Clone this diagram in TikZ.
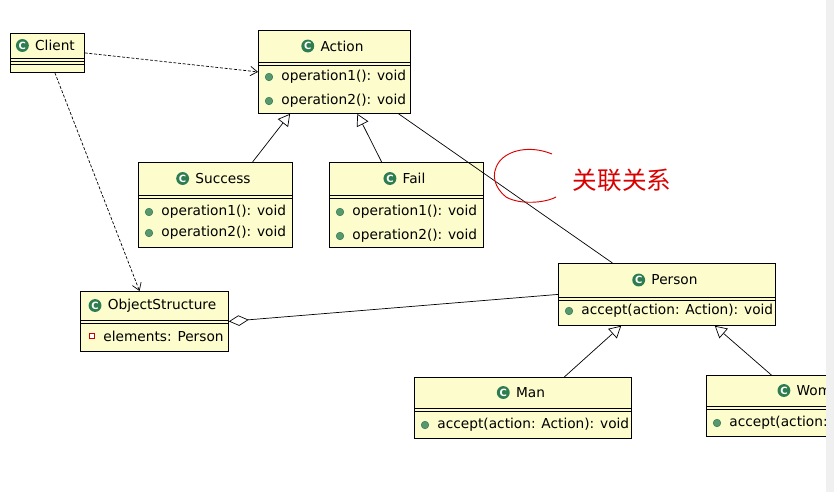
\documentclass[tikz,border=0pt]{standalone}
\usepackage{fontspec}
\setmainfont{DejaVu Sans}
\newfontfamily\cjk{Noto Sans CJK SC}
\usetikzlibrary{positioning,calc,arrows.meta}

\definecolor{clsfill}{RGB}{252,252,204}
\definecolor{icongreen}{RGB}{46,125,80}
\definecolor{dotgreen}{RGB}{90,150,110}

\tikzset{
    clsbox/.style = {draw = black, fill = clsfill, line width = 0.7pt, inner sep = 0pt},
    title/.style = {inner sep = 0pt, font = \fontsize{11.7}{13}\selectfont},
    member/.style = {inner sep = 0pt, anchor = west, font = \fontsize{11.7}{13}\selectfont},
    cicon/.style = {circle, fill = icongreen, inner sep = 0pt, minimum size = 11pt,
        font = \fontsize{8.5}{8.5}\selectfont\bfseries, text = white},
    mdot/.style = {circle, fill = dotgreen, draw = icongreen, inner sep = 0pt, minimum size = 6.5pt},
    assoc/.style = {line width = 0.6pt},
    dep/.style = {line width = 0.6pt, dash pattern = on 2.5pt off 1.5pt, -{Straight Barb[length = 6pt, width = 8pt]}},
    gen/.style = {line width = 0.6pt, -{Triangle[open, length = 10pt, width = 11pt, fill = white]}},
    aggr/.style = {line width = 0.6pt, -{Diamond[open, length = 17pt, width = 9pt, fill = white]}}
}

% class box: name, x, y, width, height, title height, title
\newcommand{\umlclass}[7]{
    \node[clsbox, anchor = north west, minimum width = #4*0.03cm, minimum height = #5*0.03cm] (#1) at (#2, #3) {};
    \draw[line width = 0.7pt] (#2, #3+#6) -- ++(#4, 0) (#2, #3+#6+3) -- ++(#4, 0);
    \node[title] (#1-t) at (#2+#4/2+8, #3+#6/2) {#7};
    \node[cicon, left = 5pt of #1-t] (#1-i) {C};
}
% member line: name, x, y, text
\newcommand{\umlop}[4]{
    \node[mdot] (#1-d) at (#2, #3) {};
    \node[member, right = 7pt of #1-d] (#1-m) {#4};
}

\begin{document}
\begin{tikzpicture}[x = 0.03cm, y = -0.03cm]

    \useasboundingbox (0, 0) rectangle (840, 492);
    \fill[white] (0, 0) rectangle (840, 492);

    \umlclass{client}{10}{33}{74}{39}{25}{Client}
    \draw[line width = 0.7pt] (10, 64) -- ++(74, 0);

    \umlclass{action}{258}{30}{152}{83}{32}{Action}
    \umlop{a1}{269}{77}{operation1(): void}
    \umlop{a2}{269}{101}{operation2(): void}

    \umlclass{success}{138}{162}{154}{85}{33}{Success}
    \umlop{s1}{149}{212}{operation1(): void}
    \umlop{s2}{149}{233}{operation2(): void}

    \umlclass{fail}{329}{162}{154}{85}{33}{Fail}
    \umlop{f1}{340}{212}{operation1(): void}
    \umlop{f2}{340}{236}{operation2(): void}

    \umlclass{os}{80}{291}{148}{60}{29}{ObjectStructure}
    \node[draw = red!80!black, fill = white, line width = 0.6pt, inner sep = 0pt, minimum size = 4.5pt] (os-d) at (92, 336) {};
    \node[member, right = 7pt of os-d] (os-m) {elements: Person};

    \umlclass{person}{558}{263}{217}{62}{34}{Person}
    \umlop{p1}{569}{311}{accept(action: Action): void}

    \umlclass{man}{414}{377}{217}{61}{31}{Man}
    \umlop{m1}{425}{425}{accept(action: Action): void}

    \begin{scope}
        \clip (0, 0) rectangle (826, 492);
        \umlclass{woman}{706}{375}{217}{61}{31}{Woman}
        \umlop{w1}{717}{423}{accept(action: Action): void}
    \end{scope}
    \fill[gray!12] (826, 0) rectangle (834, 492);

    % connectors
    \draw[dep] (client.east) -- (action.west);
    \draw[dep] ($(client.south west)!0.6!(client.south east)$) -- ($(os.north west)!0.4!(os.north east)$);
    \draw[gen] ($(success.north west)!0.74!(success.north east)$) -- ($(action.south west)!0.21!(action.south east)$);
    \draw[gen] ($(fail.north west)!0.34!(fail.north east)$) -- ($(action.south west)!0.65!(action.south east)$);
    \draw[assoc] ($(action.south west)!0.92!(action.south east)$) -- ($(person.north west)!0.25!(person.north east)$);
    \draw[aggr] (person.west) -- (os.east);
    \draw[gen] ($(man.north west)!0.69!(man.north east)$) -- ($(person.south west)!0.29!(person.south east)$);
    \draw[gen] ($(woman.north west)!0.30!(woman.north east)$) -- ($(person.south west)!0.72!(person.south east)$);

    % red note
    \draw[red!85!black, line width = 0.8pt] (552, 154) .. controls (530, 145) and (508, 150) .. (499, 162)
        .. controls (490, 175) and (495, 188) .. (506, 197) .. controls (520, 205) and (545, 203) .. (556, 197);
    \node[text = red!85!black, font = \cjk\fontsize{21}{24}\selectfont, inner sep = 0pt] (note) at (622, 180) {关联关系};

\end{tikzpicture}
\end{document}
